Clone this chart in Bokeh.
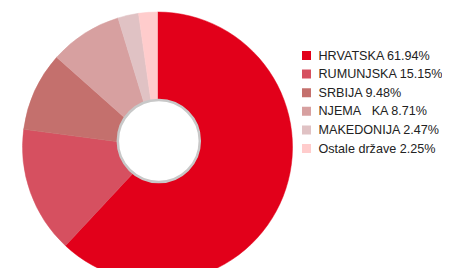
import math
from bokeh.plotting import figure
from bokeh.models import Range1d, ColumnDataSource
from bokeh.core.properties import value
from bokeh.embed import file_html
from bokeh.resources import INLINE

countries = ["HRVATSKA", "RUMUNJSKA", "SRBIJA", "NJEMA\u00a0\u00a0\u00a0KA", "MAKEDONIJA", "Ostale države"]
shares = [61.94, 15.15, 9.48, 8.71, 2.47, 2.25]
colors = ["#E2001A", "#D65060", "#C4706D", "#D7A0A0", "#E0C2C4", "#FFCCCC"]

W, H = 442, 268
p = figure(width=W, height=H, output_backend="svg", toolbar_location=None,
           x_range=Range1d(0, W), y_range=Range1d(0, H), min_border=0)
p.axis.visible = False
p.grid.visible = False
p.outline_line_color = None
p.background_fill_color = "white"

cx, cy = 157, H - 146.5
hx, hy = 158.3, H - 140.5
total = sum(shares)
starts, ends = [], []
cum = 0.0
for s in shares:
    starts.append(math.pi / 2 - 2 * math.pi * cum / total)
    cum += s
    ends.append(math.pi / 2 - 2 * math.pi * cum / total)

src = ColumnDataSource(dict(start=starts, end=ends, color=colors))
p.wedge(x=cx, y=cy, radius=135, start_angle="start",
        end_angle="end", direction="clock", fill_color="color", line_color="color",
        line_width=0.5, source=src)
p.circle(x=hx, y=hy, radius=41, fill_color="white", line_color="#C8C8C8", line_width=2.5)

labels = [f"{c} {s:.2f}%" for c, s in zip(countries, shares)]
ys = [H - (55 + i * 18.6) for i in range(len(labels))]
lsrc = ColumnDataSource(dict(y=ys, color=colors, label=labels,
                             x=[306] * len(labels), tx=[318] * len(labels)))
p.rect(x="x", y="y", width=9, height=9, fill_color="color", line_color=None, source=lsrc)
p.text(x="tx", y="y", text="label", text_font=value("Liberation Sans"), text_font_size="12.6px",
       text_color="#222222", text_baseline="middle", text_align="left", source=lsrc)

open("out.html", "w").write(file_html(p, INLINE))
